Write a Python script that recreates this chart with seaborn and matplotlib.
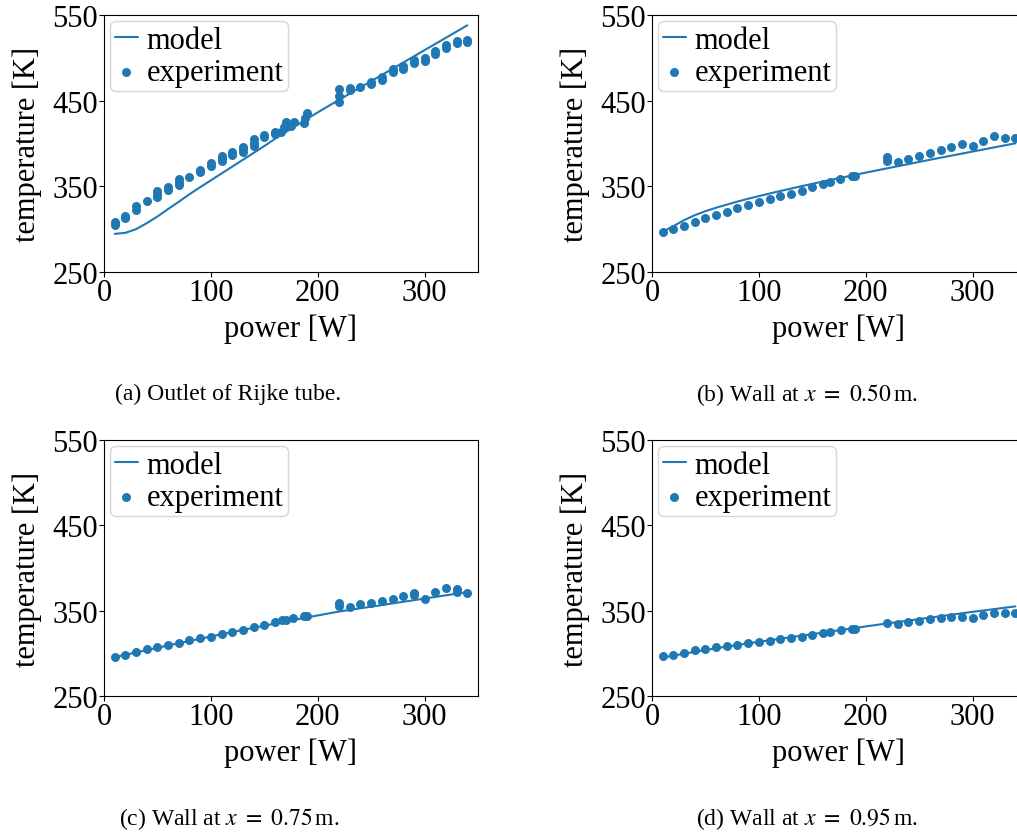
import matplotlib
matplotlib.use("Agg")
import matplotlib.pyplot as plt
import seaborn as sns

# ---- model predictions (power grid shared by all four locations) ----
model_power = [10, 20, 30, 40, 50, 60, 70, 80, 90, 100, 110, 120, 130, 140, 150,
               160, 170, 180, 190, 200, 210, 220, 230, 240, 250, 260, 270, 280,
               290, 300, 310, 320, 330, 340]

model_outlet = [294.5, 295.7, 300.0, 307.0, 314.8, 323.5, 332.0, 340.8, 349.0, 357.0,
                365.0, 373.0, 381.0, 389.0, 397.0, 405.5, 413.3, 421.0, 428.7, 436.3,
                443.7, 451.0, 458.2, 465.5, 472.7, 480.0, 487.2, 494.5, 501.7, 509.0,
                516.2, 523.5, 530.7, 538.0]

model_x050 = [297.0, 303.5, 310.5, 316.3, 321.0, 325.0, 328.7, 332.2, 335.5, 338.6,
              341.6, 344.5, 347.4, 350.2, 352.9, 355.6, 358.2, 360.8, 363.4, 366.0,
              368.5, 371.0, 373.5, 376.0, 378.5, 381.0, 383.4, 385.8, 388.2, 390.6,
              393.0, 395.4, 397.8, 400.2]

model_x075 = [295.5, 298.3, 301.0, 303.8, 306.5, 309.2, 311.9, 314.5, 317.1, 319.7,
              322.3, 324.9, 327.4, 329.9, 332.4, 334.9, 337.3, 339.7, 342.1, 344.4,
              346.7, 349.0, 350.9, 352.8, 354.7, 356.6, 358.5, 360.4, 362.3, 364.2,
              366.1, 368.0, 369.9, 371.8]

model_x095 = [295.0, 297.3, 299.6, 301.8, 303.9, 305.9, 307.9, 309.8, 311.7, 313.5,
              315.3, 317.1, 318.9, 320.7, 322.5, 324.3, 326.1, 327.9, 329.7, 331.5,
              333.3, 335.0, 336.7, 338.4, 340.1, 341.8, 343.5, 345.2, 346.9, 348.6,
              350.2, 351.8, 353.4, 355.0]

# ---- measurements ----
exp_power_outlet = [10, 10, 20, 20, 30, 30, 40, 50, 50, 50, 60, 60, 70, 70, 70, 80,
                    90, 90, 100, 100, 110, 110, 110, 120, 120, 130, 130, 130,
                    140, 140, 140, 150, 150, 160, 160, 166, 168, 170, 175, 178,
                    187, 188, 190, 220, 220, 220, 230, 230, 240, 250, 250,
                    260, 260, 270, 270, 280, 280, 290, 290, 300, 300, 310, 310,
                    320, 320, 330, 330, 340, 340]
exp_temp_outlet = [305.0, 308.0, 313.0, 315.5, 322.0, 326.5, 332.5, 337.0, 340.5, 344.0,
                   346.0, 349.5, 351.5, 355.0, 358.0, 360.5, 367.0, 369.5, 374.0, 377.0,
                   379.5, 382.5, 385.5, 387.0, 389.5, 390.0, 393.0, 396.0,
                   397.0, 401.0, 405.0, 407.5, 410.0, 411.0, 413.5, 414.0, 419.0, 425.0,
                   421.0, 425.0, 424.0, 430.0, 436.0, 449.0, 456.0, 464.0, 462.0, 465.0,
                   466.5, 469.0, 471.5, 474.5, 478.0, 484.0, 487.5, 487.0, 490.0,
                   494.0, 497.0, 496.5, 499.5, 504.0, 507.5, 511.0, 514.5, 517.5, 520.0,
                   518.5, 521.0]

exp_power_x050 = [10, 20, 30, 40, 50, 60, 70, 80, 90, 100, 110, 120, 130, 140, 150,
                  160, 167, 176, 187, 190, 220, 220, 230, 240, 250, 260, 270, 280,
                  290, 300, 310, 320, 330, 340]
exp_temp_x050 = [297.2, 300.4, 304.2, 308.0, 312.8, 316.7, 320.6, 324.5, 328.4, 332.0,
                 335.4, 338.8, 341.2, 345.0, 349.0, 352.9, 355.3, 358.7, 361.7, 362.2,
                 380.0, 384.0, 378.9, 382.0, 385.5, 389.0, 392.0, 395.6, 399.3, 396.8,
                 403.4, 408.4, 407.0, 406.2]

exp_power_x075 = [10, 20, 30, 40, 50, 60, 70, 80, 90, 100, 110, 120, 130, 140, 150,
                  160, 167, 170, 177, 187, 190, 220, 220, 230, 240, 250, 260, 270,
                  280, 290, 290, 300, 310, 320, 330, 330, 340]
exp_temp_x075 = [296.1, 298.5, 302.0, 304.7, 307.4, 309.8, 312.5, 315.6, 318.4, 319.5,
                 322.3, 325.4, 327.4, 330.9, 333.2, 337.1, 338.8, 339.3, 341.8, 343.5,
                 344.2, 356.0, 359.0, 354.7, 357.4, 359.4, 361.3, 364.1, 367.2, 368.0,
                 371.0, 363.3, 372.3, 377.0, 371.5, 375.0, 370.3]

exp_power_x095 = [10, 20, 30, 40, 50, 60, 70, 80, 90, 100, 110, 120, 130, 140, 150,
                  160, 167, 177, 187, 190, 220, 230, 240, 250, 260, 270, 280, 290,
                  300, 310, 320, 330, 340]
exp_temp_x095 = [296.9, 298.5, 300.8, 303.5, 304.7, 307.4, 308.6, 310.2, 312.5, 313.7,
                 314.9, 317.2, 318.0, 319.5, 321.5, 324.2, 325.0, 327.4, 328.9, 328.9,
                 335.2, 334.8, 336.7, 337.9, 339.9, 341.0, 342.6, 343.0, 341.8, 344.5,
                 346.9, 346.9, 346.9]

captions = ["(a) Outlet of Rijke tube.",
            r"(b) Wall at $x\ =\ 0.50\,$m.",
            r"(c) Wall at $x\ =\ 0.75\,$m.",
            r"(d) Wall at $x\ =\ 0.95\,$m."]

x_ticks = [0, 100, 200, 300]
y_ticks = [250, 350, 450, 550]

sns.set_style("ticks")
plt.rcParams.update({
    "font.family": ["Liberation Serif", "DejaVu Serif"],
    "mathtext.fontset": "stix",
    "text.color": "black",
    "axes.labelcolor": "black",
    "axes.edgecolor": "black",
    "xtick.color": "black",
    "ytick.color": "black",
    "axes.linewidth": 0.8,
})

blue = "#1f77b4"
W, H = 1017, 837
fig = plt.figure(figsize=(W / 100, H / 100), dpi=100)

# axes boxes in pixel units: (left, top, width, height)
boxes = [(104, 16, 374, 257), (652, 16, 374, 257),
         (104, 441, 374, 256), (652, 441, 374, 256)]
caption_pos = [(228, 400), (807, 401), (229, 825), (807, 825)]

panels = [(model_outlet, exp_power_outlet, exp_temp_outlet),
          (model_x050, exp_power_x050, exp_temp_x050),
          (model_x075, exp_power_x075, exp_temp_x075),
          (model_x095, exp_power_x095, exp_temp_x095)]

for (l, t, w, h), (mod, ep, et), cap, (cx, cy) in zip(boxes, panels, captions, caption_pos):
    ax = fig.add_axes([l / W, 1 - (t + h) / H, w / W, h / H])
    sns.lineplot(x=model_power, y=mod, ax=ax, color=blue, linewidth=1.5, label="model")
    sns.scatterplot(x=ep, y=et, ax=ax, color=blue, s=42, linewidth=0, label="experiment")
    ax.set_xlim(0, 350)
    ax.set_ylim(250, 550)
    ax.set_xticks(x_ticks)
    ax.set_yticks(y_ticks)
    ax.tick_params(labelsize=22, length=3.5, width=0.8, pad=1)
    ax.set_xlabel("power [W]", fontsize=22, labelpad=4.5)
    ax.set_ylabel("temperature [K]", fontsize=22, labelpad=7.5)
    for side in ["top", "right"]:
        ax.spines[side].set_visible(True)
    ax.legend(loc="upper left", fontsize=22, handlelength=0.75, handletextpad=0.3,
              borderpad=0.15, borderaxespad=0.2, labelspacing=0.1, frameon=True)
    fig.text(cx / W, 1 - cy / H, cap, fontsize=17, ha="center", va="baseline")

fig.savefig("out.png", dpi=100)
